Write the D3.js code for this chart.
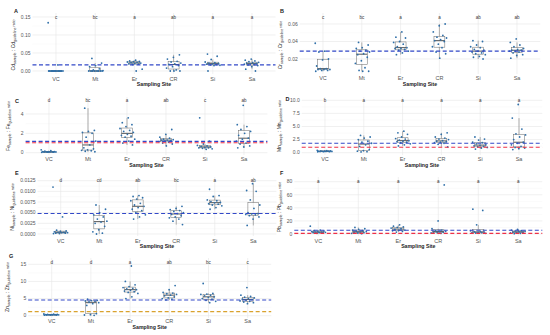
<!DOCTYPE html>
<html><head><meta charset="utf-8">
<script src="https://cdn.jsdelivr.net/npm/d3@7"></script>
<style>body{margin:0;background:#fff}svg{display:block;font-family:"Liberation Sans",Arial,sans-serif}</style>
</head><body><svg id="c" width="550" height="335"></svg>
<script>
const sites = ["VC","Mt","Er","CR","Si","Sa"];

// values per site (VC, Mt, Er, CR, Si, Sa)
const cdRatio = [
  [0.134,0.017,0,0,0,0,0,0,0,0,0,0,0,0,0,0],
  [0.035,0.022,0.015,0.012,0.006,0.003,0.001,0,0,0,0,0,0,0,0],
  [0.030,0.028,0.027,0.026,0.025,0.024,0.023,0.022,0.021,0.020,0.019,0.018,0.005,0],
  [0.045,0.038,0.033,0.027,0.025,0.022,0.020,0.018,0.015,0.012,0.008,0.003,0,0,0],
  [0.047,0.041,0.032,0.025,0.023,0.022,0.021,0.020,0.019,0.018,0.017,0.016,0.015,0],
  [0.033,0.030,0.028,0.026,0.024,0.023,0.022,0.021,0.020,0.019,0.018,0.017,0.015,0.012,0.005,0]
];
const crRatio = [
  [0.038,0.029,0.028,0.020,0.019,0.012,0.009,0.009,0.008,0.008,0.008,0.007,0.007,0.006],
  [0.039,0.036,0.033,0.032,0.030,0.029,0.028,0.026,0.025,0.022,0.018,0.015,0.010,0.007,0.006,0.006],
  [0.051,0.045,0.044,0.040,0.039,0.037,0.034,0.033,0.032,0.032,0.031,0.030,0.029,0.027,0.025],
  [0.060,0.058,0.051,0.047,0.045,0.044,0.042,0.041,0.040,0.037,0.034,0.033,0.028,0.026,0.021],
  [0.041,0.040,0.036,0.034,0.033,0.031,0.030,0.029,0.028,0.027,0.026,0.025,0.023,0.022,0.020],
  [0.043,0.039,0.036,0.034,0.032,0.031,0.030,0.030,0.029,0.029,0.028,0.027,0.025,0.024,0.021]
];
const feRatio = [
  [0.30,0.20,0.15,0.12,0.10,0.10,0.08,0.08,0.07,0.06,0.06,0.05,0.05,0.04],
  [4.6,2.3,2.2,2.1,2.0,1.6,1.2,0.8,0.5,0.4,0.3,0.25,0.2,0.15,0.1],
  [3.6,3.1,2.9,2.7,2.5,2.3,2.2,2.1,1.9,1.8,1.7,1.6,1.4,1.2,1.0,0.8],
  [2.4,1.9,1.6,1.5,1.4,1.35,1.3,1.3,1.25,1.2,1.15,1.1,1.0,0.9,0.7],
  [3.6,1.2,0.9,0.75,0.7,0.65,0.6,0.55,0.5,0.5,0.45,0.4,0.35],
  [4.9,2.9,2.7,2.4,2.2,2.0,1.8,1.5,1.4,1.2,1.0,0.9,0.7,0.6,0.5]
];
const mnRatio = [
  [0.45,0.4,0.35,0.33,0.3,0.3,0.28,0.27,0.25,0.25,0.22,0.2,0.2,0.18],
  [3.3,3.0,2.8,2.5,2.2,2.0,1.8,1.5,1.2,0.6,0.4,0.3,0.2,0.15],
  [4.1,3.8,3.5,3.0,2.7,2.6,2.4,2.3,2.2,2.1,2.0,1.9,1.7,1.5,1.3],
  [3.8,3.5,3.0,2.8,2.6,2.5,2.3,2.2,2.1,2.0,1.9,1.8,1.6,1.1],
  [3.0,2.6,2.4,2.0,1.9,1.7,1.5,1.4,1.3,1.2,1.1,1.0,0.9,0.7],
  [9.2,6.6,4.5,3.6,3.4,3.0,2.5,2.0,1.8,1.5,1.2,1.0,0.9,0.8,0.6]
];
const niRatio = [
  [0.0110,0.0040,0.0009,0.0007,0.0006,0.0005,0.0004,0.0004,0.0003,0.0003,0.0002,0.0002,0.0001,0.0001],
  [0.0068,0.0058,0.0050,0.0045,0.0040,0.0035,0.0030,0.0028,0.0025,0.0018,0.0010,0.0005,0.0002,0.0000],
  [0.0090,0.0088,0.0085,0.0082,0.0078,0.0072,0.0068,0.0065,0.0062,0.0058,0.0055,0.0050,0.0045,0.0040,0.0035],
  [0.0065,0.0060,0.0057,0.0055,0.0053,0.0050,0.0048,0.0046,0.0043,0.0040,0.0038,0.0035,0.0030,0.0022],
  [0.0105,0.0090,0.0088,0.0080,0.0078,0.0076,0.0074,0.0073,0.0071,0.0070,0.0068,0.0066,0.0062,0.0058],
  [0.0118,0.0102,0.0100,0.0080,0.0068,0.0060,0.0050,0.0048,0.0047,0.0046,0.0045,0.0043,0.0040,0.0035,0.0020]
];
const pbRatio = [
  [12,6,5,4.5,4,3.5,3,3,2.5,2,2,1.5,1],
  [10,8,7,6,5,4,3.5,3,2.5,2,1.5,1,0.5],
  [14,12,11,10,9,8,7,6,5.5,5,4,3],
  [75,20,8,6,5,4,3.5,3,2.5,2,1.5,1],
  [38,36,14,5,4,3.5,3,2.5,2,1.8,1.5,1],
  [7,6,5,4.5,4,3.5,3,2.5,2,1.5,1,0.5]
];
const znRatio = [
  [0.5,0.45,0.4,0.35,0.3,0.3,0.28,0.25,0.25,0.22,0.2,0.2,0.18,0.15],
  [4.8,4.5,4.4,4.3,4.2,4.0,3.8,3.5,3.0,0.6,0.3,0.2,0.1],
  [14.5,10,9,8.5,8.2,8,7.8,7.6,7.4,7.2,7,6.8,6.5,5.5,5],
  [8.8,7.6,6.8,6.6,6.4,6.2,6.0,5.8,5.5,5.2,5.0,4.8,4.6],
  [9.4,6.5,6.3,6.2,6.0,5.8,5.5,5.3,5.0,4.8,4.5,4.2,3.8],
  [8.2,6.0,5.6,5.4,5.2,5.0,4.8,4.7,4.5,4.3,4.2,4.0,3.8,3.5]
];

const letters = {
  A: ["c","bc","a","ab","a","a"],
  B: ["c","bc","a","a","ab","ab"],
  C: ["d","bc","a","ab","c","ab"],
  D: ["b","a","a","a","a","a"],
  E: ["d","cd","ab","bc","a","ab"],
  F: ["a","a","a","a","a","a"],
  G: ["d","d","a","ab","bc","c"]
};
const yTicks = {
  A: [0,0.05,0.10,0.15],
  B: [0.02,0.04,0.06],
  C: [0,2,4],
  D: [0,2.5,5,7.5,10],
  E: [0,0.0025,0.005,0.0075,0.01,0.0125],
  F: [0,20,40,60,80],
  G: [0,5,10,15]
};
const refLines = {
  A: [{v:0.017,c:"blue"}],
  B: [{v:0.029,c:"blue"}],
  C: [{v:1.03,c:"red"},{v:1.17,c:"blue"}],
  D: [{v:1.03,c:"red"},{v:1.8,c:"blue"}],
  E: [{v:0.0048,c:"blue"}],
  F: [{v:1.0,c:"red"},{v:5.7,c:"blue"}],
  G: [{v:1.2,c:"orange"},{v:4.6,c:"blue"}]
};
const metals = {A:"Cd",B:"Cr",C:"Fe",D:"Mn",E:"Ni",F:"Pb",G:"Zn"};
const letterLevel = {A:0.15,B:0.067,C:5.45,D:10,E:0.0125,F:80,G:15.6};

// layout (pixel geometry)
const layout = [
  {id:"A", data:cdRatio, x:[56,252],  y0:[0,71],    y1:[0.15,17],   top:13, bot:74, fmt:d3.format(".2f"), lab:[14,11], title:[15,45], xl:79, xt:84},
  {id:"B", data:crRatio, x:[323,517], y0:[0,76.5],  y1:[0.06,24],   top:13, bot:74, fmt:d3.format(".2f"), lab:[280,11], title:[282,45], xl:78, xt:84},
  {id:"C", data:feRatio, x:[49,244],  y0:[0,152.7], y1:[4,114],     top:97, bot:155, fmt:d3.format("d"), lab:[15,101], title:[10,126], xl:159, xt:165},
  {id:"D", data:mnRatio, x:[325,519], y0:[0,152.7], y1:[10,100.3],  top:97, bot:155, fmt:d3.format(".1f"), lab:[285.5,99], title:[280.5,126], xl:159, xt:165},
  {id:"E", data:niRatio, x:[60.7,253.3],y0:[0,234], y1:[0.0125,180.7],top:177,bot:236, fmt:d3.format(".4f"), lab:[15,173], title:[14,207], xl:241, xt:246},
  {id:"F", data:pbRatio, x:[318.3,518.3],y0:[0,234],y1:[80,181.7],  top:177,bot:236, fmt:d3.format("d"), lab:[280,173], title:[281,207], xl:241, xt:246},
  {id:"G", data:znRatio, x:[51.7,247.7],y0:[0,315.7],y1:[15,264.3], top:258,bot:318, fmt:d3.format("d"), lab:[9,256], title:[9,287], xl:321, xt:327}
];

const lineColor = {blue:"#3248c8", red:"#ee3047", orange:"#d9a22e"};
const svg = d3.select("#c");

layout.forEach(p => {
  const id = p.id;
  const x = d3.scalePoint().domain(sites).range(p.x);
  const step = x.step();
  const left = p.x[0] - 0.6*step, right = p.x[1] + 0.6*step;
  const y = d3.scaleLinear().domain([p.y0[0], p.y1[0]]).range([p.y0[1], p.y1[1]]);
  const g = svg.append("g");

  // grid
  const minor = [];
  const tk = yTicks[id];
  for (let i=0;i<tk.length-1;i++) minor.push((tk[i]+tk[i+1])/2);
  g.selectAll(".gm").data(minor).join("line")
    .attr("x1",left).attr("x2",right).attr("y1",d=>y(d)).attr("y2",d=>y(d))
    .attr("stroke","#f3f3f3").attr("stroke-width",0.4);
  g.selectAll(".gy").data(tk).join("line")
    .attr("x1",left).attr("x2",right).attr("y1",d=>y(d)).attr("y2",d=>y(d))
    .attr("stroke","#e6e6e6").attr("stroke-width",0.6);
  g.selectAll(".gx").data(sites).join("line")
    .attr("x1",d=>x(d)).attr("x2",d=>x(d)).attr("y1",p.top).attr("y2",p.bot)
    .attr("stroke","#e6e6e6").attr("stroke-width",0.6);

  // y tick labels
  g.selectAll(".yt").data(tk).join("text")
    .attr("x",left-2).attr("y",d=>y(d)).attr("dy","0.35em")
    .attr("text-anchor","end").attr("font-size",5).attr("fill","#555")
    .text(d=>p.fmt(d));
  // x tick labels
  g.selectAll(".xt").data(sites).join("text")
    .attr("x",d=>x(d)).attr("y",p.xl).attr("dy","0.35em")
    .attr("text-anchor","middle").attr("font-size",5.5).attr("fill","#555")
    .text(d=>d);
  g.append("text").attr("x",(left+right)/2).attr("y",p.xt).attr("dy","0.35em")
    .attr("text-anchor","middle").attr("font-size",5.2).attr("font-weight","bold")
    .attr("fill","#222").text("Sampling Site");

  // panel letter
  g.append("text").attr("x",p.lab[0]).attr("y",p.lab[1]).attr("dy","0.35em")
    .attr("font-size",5.5).attr("font-weight","bold").attr("fill","#222").text(id);

  // y title
  const m = metals[id];
  const t = g.append("text")
    .attr("transform",`translate(${p.title[0]},${p.title[1]}) rotate(-90)`)
    .attr("text-anchor","middle").attr("font-size",5).attr("fill","#222");
  t.append("tspan").text(m);
  t.append("tspan").attr("font-size",3.6).attr("dy",1.2).text("sample");
  t.append("tspan").attr("dy",-1.2).text(" : " + m);
  t.append("tspan").attr("font-size",3.6).attr("dy",1.2).text("guideline");
  t.append("tspan").attr("font-size",3.6).attr("dy",-1.2).text(" ratio");

  // boxplots
  const bw = step*0.28;
  p.data.forEach((vals,i) => {
    const s = vals.slice().sort(d3.ascending);
    const q1 = d3.quantile(s,0.25), med = d3.quantile(s,0.5), q3 = d3.quantile(s,0.75);
    const iqr = q3-q1;
    const lo = d3.min(s.filter(v=>v>=q1-1.5*iqr)), hi = d3.max(s.filter(v=>v<=q3+1.5*iqr));
    const cx = x(sites[i]);
    const bg = g.append("g").attr("stroke","#666").attr("stroke-width",0.5).attr("fill","none");
    bg.append("line").attr("x1",cx).attr("x2",cx).attr("y1",y(q3)).attr("y2",y(hi));
    bg.append("line").attr("x1",cx).attr("x2",cx).attr("y1",y(q1)).attr("y2",y(lo));
    bg.append("rect").attr("x",cx-bw/2).attr("width",bw).attr("y",y(q3)).attr("height",Math.max(0.3,y(q1)-y(q3)));
    bg.append("line").attr("x1",cx-bw/2).attr("x2",cx+bw/2).attr("y1",y(med)).attr("y2",y(med)).attr("stroke-width",0.9).attr("stroke","#444");
  });

  // points (deterministic jitter)
  p.data.forEach((vals,i) => {
    g.selectAll(null).data(vals).join("circle")
      .attr("cx",(d,j)=>x(sites[i]) + (((j*0.618+i*0.29)%1)-0.5)*0.4*step)
      .attr("cy",d=>y(d)).attr("r",0.9).attr("fill","#2f6fa8");
  });

  // reference lines
  refLines[id].forEach(r => {
    g.append("line").attr("x1",left).attr("x2",right).attr("y1",y(r.v)).attr("y2",y(r.v))
      .attr("stroke",lineColor[r.c]).attr("stroke-width",1.1).attr("stroke-dasharray","4,2.5");
  });

  // significance letters
  g.selectAll(".lt").data(letters[id]).join("text")
    .attr("x",(d,i)=>x(sites[i])).attr("y",y(letterLevel[id])).attr("dy","0.35em")
    .attr("text-anchor","middle").attr("font-size",4.5).attr("fill","#333").text(d=>d);
});
</script></body></html>
